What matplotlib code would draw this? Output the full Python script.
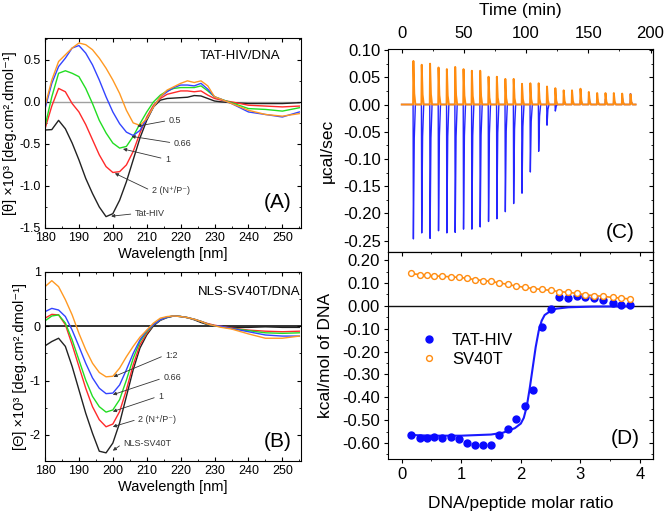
import numpy as np
import matplotlib
matplotlib.use('Agg')
import matplotlib.pyplot as plt
from matplotlib.ticker import MultipleLocator, FormatStrFormatter

plt.rcParams['font.family'] = ['Liberation Sans', 'DejaVu Sans']
plt.rcParams['axes.unicode_minus'] = False
plt.rcParams['axes.linewidth'] = 0.8

# ---------------- CD spectra (panels A, B) ----------------
wavelength = [180, 182, 184, 186, 188, 190, 192, 194, 196, 198, 200, 202, 204, 206, 208, 210,
              212, 214, 216, 218, 220, 222, 224, 226, 228, 230, 232, 235, 240, 245, 250, 255]

# panel A: TAT-HIV/DNA
a_tat = [-0.335, -0.33, -0.22, -0.32, -0.49, -0.69, -0.91, -1.09, -1.25, -1.365, -1.33, -1.17, -0.95, -0.69, -0.43, -0.22,
         -0.06, 0.02, 0.04, 0.045, 0.05, 0.055, 0.075, 0.07, 0.04, 0.01, 0.0, -0.01, -0.02, -0.02, -0.02, -0.01]
a_r2 = [-0.32, -0.05, 0.16, 0.12, -0.02, -0.12, -0.27, -0.45, -0.63, -0.77, -0.84, -0.83, -0.75, -0.59, -0.37, -0.18,
        -0.04, 0.04, 0.09, 0.11, 0.13, 0.13, 0.12, 0.13, 0.08, 0.04, 0.02, 0.0, -0.04, -0.05, -0.06, -0.05]
a_r1 = [-0.29, 0.06, 0.34, 0.37, 0.34, 0.30, 0.16, -0.02, -0.22, -0.37, -0.49, -0.55, -0.53, -0.41, -0.26, -0.12,
        0.0, 0.08, 0.13, 0.16, 0.17, 0.17, 0.17, 0.19, 0.13, 0.06, 0.03, -0.01, -0.08, -0.09, -0.11, -0.07]
a_r066 = [-0.08, 0.22, 0.42, 0.52, 0.64, 0.67, 0.58, 0.44, 0.26, 0.06, -0.12, -0.26, -0.36, -0.40, -0.34, -0.20,
          -0.06, 0.06, 0.12, 0.17, 0.20, 0.20, 0.19, 0.22, 0.15, 0.06, 0.03, -0.02, -0.12, -0.15, -0.18, -0.12]
a_r05 = [-0.05, 0.26, 0.48, 0.56, 0.64, 0.70, 0.68, 0.62, 0.52, 0.40, 0.26, 0.10, -0.10, -0.25, -0.28, -0.20,
         -0.06, 0.06, 0.14, 0.18, 0.22, 0.25, 0.23, 0.25, 0.19, 0.06, 0.03, -0.02, -0.10, -0.15, -0.17, -0.14]

# panel B: NLS-SV40T/DNA
b_nls = [-0.36, -0.28, -0.22, -0.37, -0.74, -1.17, -1.60, -1.97, -2.30, -2.33, -2.15, -1.78, -1.29, -0.80, -0.40, -0.16,
         0.01, 0.11, 0.16, 0.19, 0.18, 0.16, 0.12, 0.07, 0.03, 0.01, 0.0, -0.02, -0.02, -0.01, -0.02, -0.02]
b_r2 = [0.15, 0.22, 0.21, 0.03, -0.34, -0.74, -1.14, -1.48, -1.72, -1.85, -1.80, -1.57, -1.17, -0.71, -0.34, -0.13,
        0.03, 0.12, 0.17, 0.19, 0.18, 0.16, 0.13, 0.09, 0.05, 0.02, 0.0, -0.03, -0.07, -0.09, -0.10, -0.09]
b_r1 = [0.10, 0.19, 0.21, 0.06, -0.25, -0.62, -0.99, -1.29, -1.48, -1.58, -1.54, -1.35, -0.99, -0.59, -0.28, -0.10,
        0.03, 0.12, 0.17, 0.19, 0.18, 0.16, 0.13, 0.09, 0.04, 0.01, -0.01, -0.04, -0.08, -0.12, -0.13, -0.12]
b_r066 = [0.27, 0.33, 0.30, 0.18, -0.07, -0.37, -0.68, -0.95, -1.14, -1.24, -1.23, -1.08, -0.80, -0.50, -0.25, -0.08,
          0.03, 0.12, 0.17, 0.19, 0.18, 0.16, 0.13, 0.09, 0.04, 0.01, 0.0, -0.04, -0.10, -0.16, -0.18, -0.18]
b_r12 = [0.73, 0.84, 0.73, 0.49, 0.21, -0.13, -0.43, -0.68, -0.85, -0.93, -0.92, -0.77, -0.56, -0.37, -0.20, -0.07,
         0.06, 0.15, 0.18, 0.19, 0.18, 0.16, 0.13, 0.09, 0.04, 0.01, -0.02, -0.05, -0.14, -0.22, -0.22, -0.18]

# ---------------- ITC raw (panel C) ----------------
inj_time = [9.4, 16.1, 22.8, 29.6, 36.3, 43.0, 49.7, 56.4, 63.1, 69.8, 76.5, 83.3, 90.0, 96.7,
            103.4, 110.1, 116.8, 123.5, 130.2, 136.9, 143.7, 150.4, 157.1, 163.8, 170.5, 177.2, 183.9]
tat_peak = [-0.247, -0.236, -0.246, -0.232, -0.236, -0.235, -0.229, -0.229, -0.225, -0.215, -0.210, -0.197, -0.182, -0.163,
            -0.124, -0.086, -0.038, -0.012, 0.005, 0.010, 0.008, 0.020, 0.012, 0.010, 0.012, 0.015, 0.020]
sv_peak = [0.080, 0.073, 0.075, 0.068, 0.065, 0.069, 0.065, 0.062, 0.062, 0.051, 0.051, 0.047, 0.047, 0.038,
           0.039, 0.039, 0.033, 0.030, 0.026, 0.026, 0.029, 0.023, 0.021, 0.021, 0.021, 0.020, 0.019]

# ---------------- integrated heats (panel D) ----------------
ratio = [0.15, 0.30, 0.42, 0.54, 0.68, 0.82, 0.96, 1.09, 1.23, 1.37, 1.50, 1.64, 1.78, 1.92,
         2.07, 2.21, 2.35, 2.50, 2.64, 2.80, 2.94, 3.08, 3.23, 3.38, 3.54, 3.69, 3.84]
tat_heat = [-0.563, -0.577, -0.577, -0.572, -0.578, -0.572, -0.583, -0.601, -0.607, -0.607, -0.607, -0.564, -0.539, -0.496,
            -0.438, -0.368, -0.091, -0.015, 0.038, 0.035, 0.044, 0.037, 0.033, 0.025, 0.012, 0.003, 0.003]
sv_heat = [0.142, 0.137, 0.134, 0.131, 0.130, 0.127, 0.125, 0.121, 0.115, 0.111, 0.107, 0.101, 0.094, 0.087,
           0.081, 0.076, 0.072, 0.068, 0.063, 0.059, 0.055, 0.049, 0.045, 0.042, 0.037, 0.034, 0.030]
fit_ratio = [0.15, 0.5, 1.0, 1.5, 1.7, 1.9, 2.0, 2.05, 2.1, 2.15, 2.2, 2.25, 2.3, 2.35, 2.4, 2.5, 2.6, 2.8, 3.2, 3.85]
fit_heat = [-0.565, -0.568, -0.568, -0.563, -0.555, -0.535, -0.515, -0.49, -0.44, -0.36, -0.27, -0.18, -0.11, -0.065,
            -0.04, -0.022, -0.012, -0.006, -0.003, -0.002]

c_black, c_red, c_green, c_blue, c_orange = '#222222', '#ff2a2a', '#22dd22', '#3344ff', '#ff9922'

fig = plt.figure(figsize=(6.66, 5.13), dpi=100)
ax_a = fig.add_axes([0.0676, 0.5556, 0.3844, 0.3704])
ax_b = fig.add_axes([0.0676, 0.1014, 0.3844, 0.3684])
ax_c = fig.add_axes([0.5826, 0.5088, 0.3979, 0.3957])
ax_d = fig.add_axes([0.5826, 0.1053, 0.3979, 0.4035])


def cd_axes(ax):
    ax.set_xlim(180, 255.5)
    ax.xaxis.set_major_locator(MultipleLocator(10))
    ax.xaxis.set_minor_locator(MultipleLocator(5))
    ax.tick_params(which='both', direction='in', top=True, right=True, labelsize=9, pad=3)
    ax.tick_params(which='major', length=3)
    ax.tick_params(which='minor', length=1.5)
    ax.set_xlabel('Wavelength [nm]', fontsize=10.5, labelpad=2)


def arrow_label(ax, text, xy, xytext):
    ax.annotate(text, xy=xy, xytext=xytext, fontsize=6.5, color='#333333', ha='left', va='center',
                arrowprops=dict(arrowstyle='-|>', color='#333333', lw=0.6, mutation_scale=5,
                                shrinkA=1, shrinkB=0, relpos=(0, 0.5)))


# ---- Panel A
ax = ax_a
ax.axhline(0, color='#a0a0a0', lw=1.0, zorder=1)
ax.plot(wavelength, a_tat, color=c_black, lw=1)
ax.plot(wavelength, a_r2, color=c_red, lw=1)
ax.plot(wavelength, a_r1, color=c_green, lw=1)
ax.plot(wavelength, a_r066, color=c_blue, lw=1)
ax.plot(wavelength, a_r05, color=c_orange, lw=1)
cd_axes(ax)
ax.set_ylim(-1.5, 0.76)
ax.yaxis.set_major_locator(MultipleLocator(0.5))
ax.yaxis.set_minor_locator(MultipleLocator(0.25))
ax.yaxis.set_major_formatter(FormatStrFormatter('%.1f'))
ax.set_ylabel('[θ] ×10³ [deg.cm².dmol⁻¹]', fontsize=10.5, labelpad=2)
ax.text(225.7, 0.55, 'TAT-HIV/DNA', fontsize=9.5, ha='left', va='center')
ax.text(248.7, -1.20, '(A)', fontsize=15, ha='center', va='center')
arrow_label(ax, '0.5', (207.2, -0.29), (216.5, -0.22))
arrow_label(ax, '0.66', (205.5, -0.41), (218.0, -0.49))
arrow_label(ax, '1', (203.0, -0.56), (215.4, -0.68))
arrow_label(ax, '2 (N⁺/P⁻)', (200.6, -0.85), (211.5, -1.06))
arrow_label(ax, 'Tat-HIV', (199.5, -1.36), (206.5, -1.33))

# ---- Panel B
ax = ax_b
ax.axhline(0, color='#111111', lw=1.2, zorder=1)
ax.plot(wavelength, b_nls, color=c_black, lw=1)
ax.plot(wavelength, b_r2, color=c_red, lw=1)
ax.plot(wavelength, b_r1, color=c_green, lw=1)
ax.plot(wavelength, b_r066, color=c_blue, lw=1)
ax.plot(wavelength, b_r12, color=c_orange, lw=1)
cd_axes(ax)
ax.set_ylim(-2.48, 1.0)
ax.yaxis.set_major_locator(MultipleLocator(1))
ax.yaxis.set_minor_locator(MultipleLocator(0.5))
ax.set_ylabel('[Θ] ×10³ [deg.cm².dmol⁻¹]', fontsize=10.5, labelpad=2)
ax.text(225.1, 0.63, 'NLS-SV40T/DNA', fontsize=9.5, ha='left', va='center')
ax.text(248.7, -2.12, '(B)', fontsize=15, ha='center', va='center')
arrow_label(ax, '1:2', (200.2, -0.93), (215.5, -0.53))
arrow_label(ax, '0.66', (200.0, -1.26), (214.9, -0.95))
arrow_label(ax, '1', (200.0, -1.57), (213.4, -1.29))
arrow_label(ax, '2 (N⁺/P⁻)', (200.0, -1.85), (207.5, -1.71))
arrow_label(ax, 'NLS-SV40T', (200.0, -2.29), (203.1, -2.15))

# ---- Panel C: raw thermograms, one spike per injection
def trace(times, peaks, t_end=188.0):
    t, y = [0.0], [0.0]
    for ti, hi in zip(times, peaks):
        t += [ti - 0.25, ti, ti + 0.7, ti + 1.6]
        y += [0.0, hi, 0.25 * hi, 0.0]
    t.append(t_end)
    y.append(0.0)
    return t, y

ax = ax_c
t_tat, y_tat = trace(inj_time, tat_peak)
t_sv, y_sv = trace(inj_time, sv_peak)
ax.plot(t_tat, y_tat, color='#2525ff', lw=1.0)
ax.plot(t_sv, y_sv, color='#ff8c10', lw=1.4)
ax.set_xlim(-11, 202)
ax.set_ylim(-0.271, 0.102)
ax.xaxis.tick_top()
ax.xaxis.set_label_position('top')
ax.xaxis.set_major_locator(MultipleLocator(50))
ax.xaxis.set_minor_locator(MultipleLocator(25))
ax.yaxis.set_major_locator(MultipleLocator(0.05))
ax.yaxis.set_minor_locator(MultipleLocator(0.025))
ax.yaxis.set_major_formatter(FormatStrFormatter('%.2f'))
ax.tick_params(axis='x', which='both', direction='in', top=True, bottom=False, labelsize=12, pad=6)
ax.tick_params(axis='y', which='both', direction='out', right=False, labelsize=12, pad=2)
ax.tick_params(which='major', length=3)
ax.tick_params(which='minor', length=1.5)
sec = ax.secondary_yaxis('right')
sec.yaxis.set_major_locator(MultipleLocator(0.05))
sec.yaxis.set_minor_locator(MultipleLocator(0.025))
sec.tick_params(which='both', direction='in', labelright=False)
sec.tick_params(which='major', length=3)
sec.tick_params(which='minor', length=1.5)
ax.set_xlabel('Time (min)', fontsize=12.5, labelpad=8)
ax.set_ylabel('µcal/sec', fontsize=12.5, labelpad=6)
ax.text(0.875, 0.094, '(C)', transform=ax.transAxes, fontsize=15, ha='center', va='center')

# ---- Panel D
ax = ax_d
ax.axhline(0, color='#111111', lw=1.0, zorder=1)
ax.plot(fit_ratio, fit_heat, color='#1a1aff', lw=1.5, zorder=2)
ax.plot(ratio, sv_heat, color='#ff8c10', lw=1.2, zorder=2)
ax.plot(ratio, tat_heat, 'o', color='#0a0aff', ms=5, ls='none', zorder=3, label='TAT-HIV')
ax.plot(ratio, sv_heat, 'o', mfc='white', mec='#ff8c10', mew=1.0, ms=4.2, ls='none', zorder=4, label='SV40T')
ax.set_xlim(-0.23, 4.22)
ax.set_ylim(-0.67, 0.236)
ax.xaxis.set_major_locator(MultipleLocator(1))
ax.xaxis.set_minor_locator(MultipleLocator(0.5))
ax.yaxis.set_major_locator(MultipleLocator(0.1))
ax.yaxis.set_minor_locator(MultipleLocator(0.05))
ax.yaxis.set_major_formatter(FormatStrFormatter('%.2f'))
ax.tick_params(which='both', direction='out', top=False, right=False, labelsize=12, pad=3)
ax.tick_params(which='major', length=3)
ax.tick_params(which='minor', length=1.5)
for side in ('top', 'right'):
    if side == 'top':
        sec = ax.secondary_xaxis('top')
        sec.xaxis.set_major_locator(MultipleLocator(1))
        sec.xaxis.set_minor_locator(MultipleLocator(0.5))
        sec.tick_params(which='both', direction='in', labeltop=False)
    else:
        sec = ax.secondary_yaxis('right')
        sec.yaxis.set_major_locator(MultipleLocator(0.1))
        sec.yaxis.set_minor_locator(MultipleLocator(0.05))
        sec.tick_params(which='both', direction='in', labelright=False)
    sec.tick_params(which='major', length=3)
    sec.tick_params(which='minor', length=1.5)
ax.set_xlabel('DNA/peptide molar ratio', fontsize=12.5, labelpad=10)
ax.set_ylabel('kcal/mol of DNA', fontsize=12.5, labelpad=6)
ax.legend(loc='upper left', bbox_to_anchor=(0.09, 0.65), frameon=False, fontsize=12,
          handlelength=1.0, handletextpad=0.9, labelspacing=0.25, borderpad=0)
ax.text(0.894, 0.101, '(D)', transform=ax.transAxes, fontsize=15, ha='center', va='center')

fig.savefig('out.png', dpi=100)
